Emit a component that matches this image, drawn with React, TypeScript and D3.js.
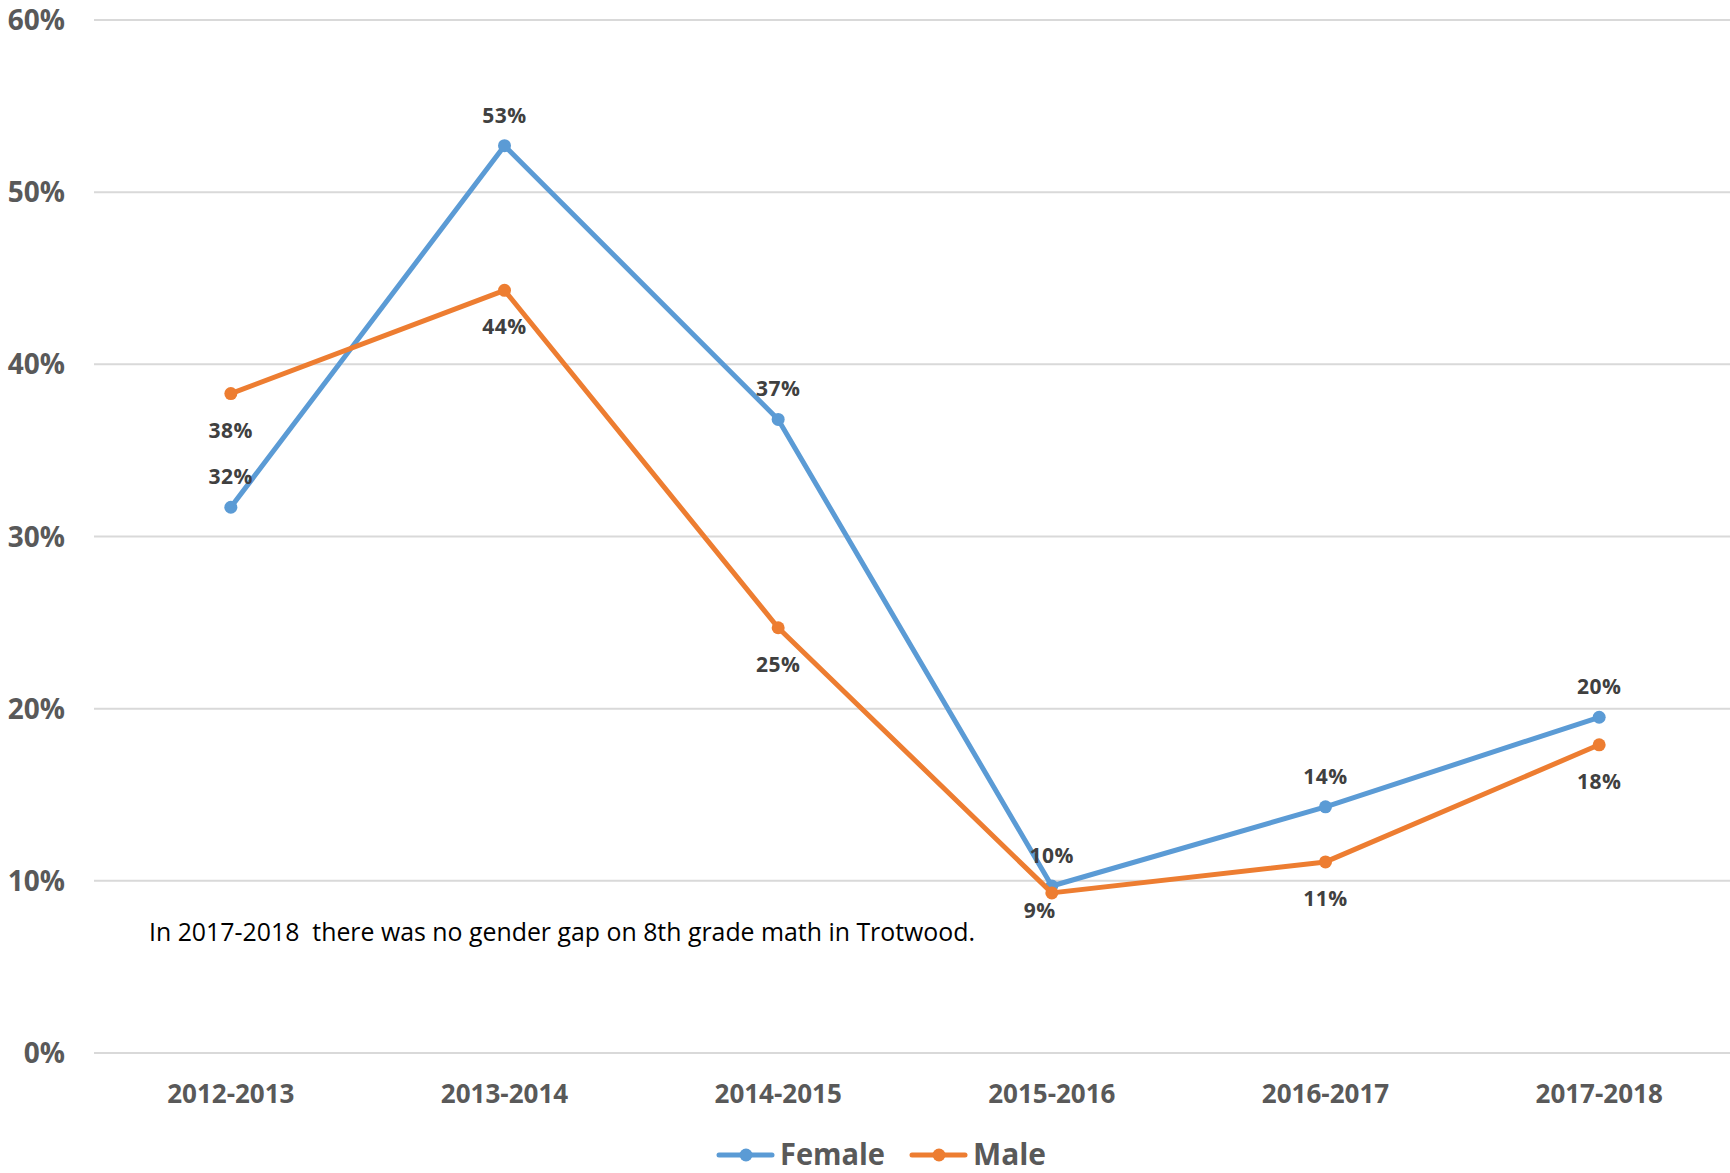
import * as d3 from "d3";

const YEARS = ["2012-2013", "2013-2014", "2014-2015", "2015-2016", "2016-2017", "2017-2018"];
const FEMALE = [0.317, 0.527, 0.368, 0.097, 0.143, 0.195];
const MALE = [0.383, 0.443, 0.247, 0.093, 0.111, 0.179];
const Y_TICKS = [0, 0.1, 0.2, 0.3, 0.4, 0.5, 0.6];
const NOTE = "In 2017-2018  there was no gender gap on 8th grade math in Trotwood.";

const W = 1730;
const H = 1173;
const FONT = "'Open Sans', 'Noto Sans', sans-serif";

interface Series {
  name: string;
  values: number[];
  color: string;
  above: boolean;
}

const SERIES: Series[] = [
  { name: "Female", values: FEMALE, color: "#5B9BD5", above: true },
  { name: "Male", values: MALE, color: "#ED7D31", above: false },
];

export default function App() {
  const x = d3.scalePoint<string>().domain(YEARS).range([94, 1736]).padding(0.5);
  const y = d3.scaleLinear().domain([0, 0.6]).range([1053, 20]);
  const fmt = d3.format(".0%");

  const line = d3
    .line<number>()
    .x((_, i) => x(YEARS[i])!)
    .y((d) => y(d));

  // label nudge for the crowded 2015-2016 male point
  const labelPos = (s: Series, i: number, v: number) => {
    const px = x(YEARS[i])!;
    const py = y(v);
    if (s.above) return { lx: px, ly: py - 23 };
    if (YEARS[i] === "2015-2016") return { lx: px - 12, ly: py + 25 };
    return { lx: px, ly: py + 44 };
  };

  return (
    <div>
      <style>{`body{margin:0;overflow:hidden}`}</style>
      <svg width={W} height={H} style={{ display: "block", background: "#fff" }}>
        {/* gridlines and y labels */}
        {Y_TICKS.map((t) => (
          <g key={t}>
            <line x1={94} x2={W} y1={y(t)} y2={y(t)} stroke="#D9D9D9" strokeWidth={2} />
            <text
              x={65}
              y={y(t)}
              dy="0.36em"
              textAnchor="end"
              fontFamily={FONT}
              fontWeight={700}
              fontSize={28}
              fill="#595959"
            >
              {fmt(t)}
            </text>
          </g>
        ))}

        {/* x labels */}
        {YEARS.map((yr) => (
          <text
            key={yr}
            x={x(yr)!}
            y={1103}
            textAnchor="middle"
            fontFamily={FONT}
            fontWeight={700}
            fontSize={26}
            fill="#595959"
          >
            {yr}
          </text>
        ))}

        {/* series lines */}
        {SERIES.map((s) => (
          <g key={s.name}>
            <path d={line(s.values)!} fill="none" stroke={s.color} strokeWidth={5} strokeLinejoin="round" />
            {s.values.map((v, i) => (
              <circle key={i} cx={x(YEARS[i])!} cy={y(v)} r={6.5} fill={s.color} />
            ))}
          </g>
        ))}

        {/* data labels */}
        {SERIES.map((s) =>
          s.values.map((v, i) => {
            const { lx, ly } = labelPos(s, i, v);
            return (
              <text
                key={s.name + i}
                x={lx}
                y={ly}
                textAnchor="middle"
                fontFamily={FONT}
                fontWeight={700}
                fontSize={21}
                letterSpacing={0.5}
                fill="#404040"
              >
                {fmt(v)}
              </text>
            );
          })
        )}

        {/* annotation */}
        <text
          x={149}
          y={941}
          fontFamily={FONT}
          fontSize={26}
          fill="#000"
          textLength={826}
          lengthAdjust="spacingAndGlyphs"
          style={{ whiteSpace: "pre" }}
        >
          {NOTE}
        </text>

        {/* legend */}
        {SERIES.map((s, i) => {
          const lx0 = i === 0 ? 719 : 912;
          const tw = i === 0 ? 105 : 73;
          return (
            <g key={s.name}>
              <line x1={lx0} x2={lx0 + 53} y1={1155} y2={1155} stroke={s.color} strokeWidth={5} strokeLinecap="round" />
              <circle cx={lx0 + 27} cy={1155} r={6.5} fill={s.color} />
              <text
                x={lx0 + 61}
                y={1165}
                fontFamily={FONT}
                fontWeight={700}
                fontSize={30}
                fill="#595959"
                textLength={tw}
                lengthAdjust="spacingAndGlyphs"
              >
                {s.name}
              </text>
            </g>
          );
        })}
      </svg>
    </div>
  );
}
